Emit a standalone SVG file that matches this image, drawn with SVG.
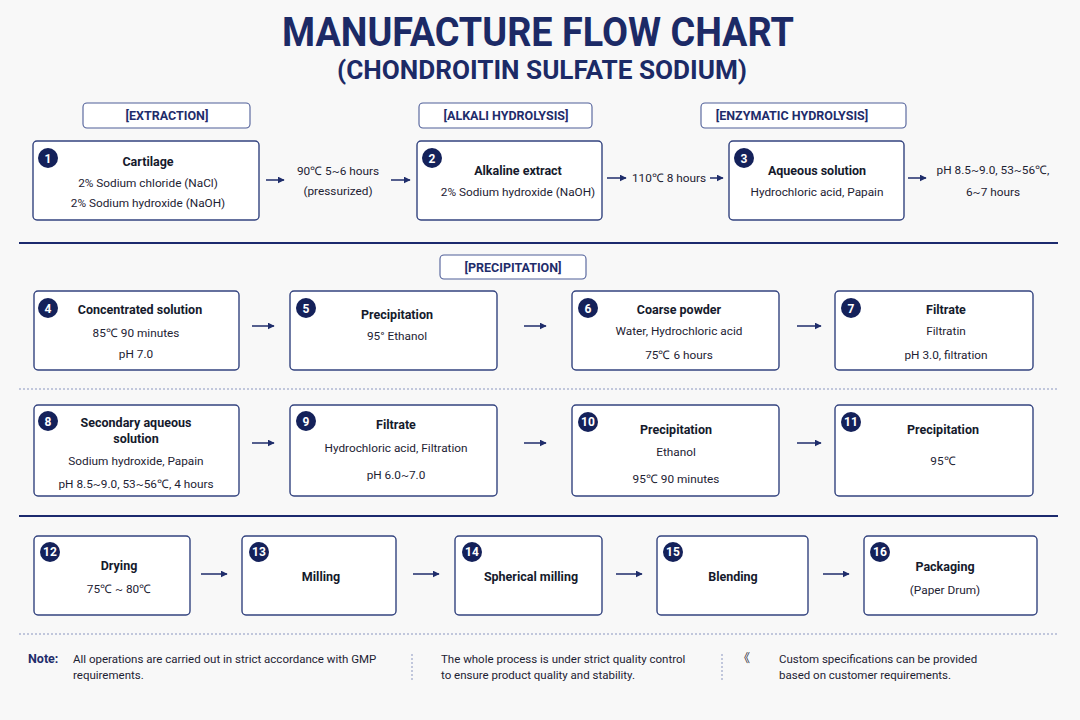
<svg xmlns="http://www.w3.org/2000/svg" width="1080" height="720" viewBox="0 0 1080 720">
<defs>
<marker id="ah" viewBox="0 0 10 10" refX="9" refY="5" markerWidth="7" markerHeight="7" markerUnits="userSpaceOnUse" orient="auto"><path d="M0,0 L10,5 L0,10 z" fill="#1f2d6b"/></marker>
<style>
.t{font-family:Roboto,"Liberation Sans",sans-serif;fill:#1c2a66;font-weight:bold;text-anchor:middle}
.box{fill:#fff;stroke:#33437f;stroke-width:1.4}
.sec{fill:#fff;stroke:#4f5e98;stroke-width:1.1}
.sect{font-family:Roboto,"Liberation Sans",sans-serif;font-size:12.5px;font-weight:bold;fill:#1f2d6b;text-anchor:middle}
.h{font-family:Roboto,"Liberation Sans",sans-serif;font-size:12.5px;font-weight:bold;fill:#151a2c;text-anchor:middle}
.b{font-family:Roboto,"Liberation Sans",sans-serif;font-size:11.8px;fill:#1d2233;text-anchor:middle}
.n{fill:#14215a}
.nt{font-family:Roboto,"Liberation Sans",sans-serif;font-size:12px;font-weight:bold;fill:#fff;text-anchor:middle}
.arr{stroke:#1f2d6b;stroke-width:1.5;fill:none;marker-end:url(#ah)}
.solid{stroke:#1c2a6e;stroke-width:2}
.dot{stroke:#8a96c0;stroke-width:1;stroke-dasharray:2 2}
.f{font-family:Roboto,"Liberation Sans",sans-serif;font-size:11.5px;fill:#1d2233}
</style>
</defs>
<rect width="1080" height="720" fill="#f8f8f8"/>
<g id="title">
<text class="t" x="538" y="46" font-size="40" textLength="512" lengthAdjust="spacingAndGlyphs">MANUFACTURE FLOW CHART</text>
<text class="t" x="542" y="79" font-size="26" textLength="410" lengthAdjust="spacingAndGlyphs">(CHONDROITIN SULFATE SODIUM)</text>
</g>
<g id="sections">
<rect class="sec" x="83" y="103" width="167" height="25" rx="4"/><text class="sect" x="167" y="120">[EXTRACTION]</text>
<rect class="sec" x="419" y="103" width="173" height="25" rx="4"/><text class="sect" x="506" y="120">[ALKALI HYDROLYSIS]</text>
<rect class="sec" x="701" y="103" width="205" height="25" rx="4"/><text class="sect" x="792" y="120">[ENZYMATIC HYDROLYSIS]</text>
<rect class="sec" x="440" y="255" width="146" height="24" rx="4"/><text class="sect" x="513" y="272">[PRECIPITATION]</text>
</g>
<g id="dividers">
<line class="solid" x1="19" y1="243" x2="1058" y2="243"/>
<line class="dot" x1="19" y1="389" x2="1058" y2="389"/>
<line class="solid" x1="19" y1="516" x2="1058" y2="516"/>
<line class="dot" x1="19" y1="634" x2="1058" y2="634"/>
</g>
<g id="node1"><rect class="box" x="33" y="141" width="226" height="79" rx="4"/><circle class="n" cx="48" cy="158" r="10"/><text class="nt" x="48" y="162.5">1</text>
<text class="h" x="148" y="166">Cartilage</text><text class="b" x="148" y="187">2% Sodium chloride (NaCl)</text><text class="b" x="148" y="207">2% Sodium hydroxide (NaOH)</text></g>
<g id="node2"><rect class="box" x="417" y="141" width="185" height="79" rx="4"/><circle class="n" cx="432" cy="158" r="10"/><text class="nt" x="432" y="162.5">2</text>
<text class="h" x="518" y="175">Alkaline extract</text><text class="b" x="518" y="196">2% Sodium hydroxide (NaOH)</text></g>
<g id="node3"><rect class="box" x="729" y="141" width="175" height="79" rx="4"/><circle class="n" cx="744" cy="158" r="10"/><text class="nt" x="744" y="162.5">3</text>
<text class="h" x="817" y="175">Aqueous solution</text><text class="b" x="817" y="196">Hydrochloric acid, Papain</text></g>
<g id="node4"><rect class="box" x="34" y="291" width="205" height="79" rx="4"/><circle class="n" cx="48" cy="308" r="10"/><text class="nt" x="48" y="312.5">4</text>
<text class="h" x="140" y="314">Concentrated solution</text><text class="b" x="136" y="337">85℃ 90 minutes</text><text class="b" x="136" y="358">pH 7.0</text></g>
<g id="node5"><rect class="box" x="290" y="291" width="207" height="79" rx="4"/><circle class="n" cx="306" cy="308" r="10"/><text class="nt" x="306" y="312.5">5</text>
<text class="h" x="397" y="319">Precipitation</text><text class="b" x="397" y="340">95° Ethanol</text></g>
<g id="node6"><rect class="box" x="572" y="291" width="207" height="79" rx="4"/><circle class="n" cx="588" cy="308" r="10"/><text class="nt" x="588" y="312.5">6</text>
<text class="h" x="679" y="314">Coarse powder</text><text class="b" x="679" y="335">Water, Hydrochloric acid</text><text class="b" x="679" y="359">75℃ 6 hours</text></g>
<g id="node7"><rect class="box" x="835" y="291" width="198" height="79" rx="4"/><circle class="n" cx="851" cy="308" r="10"/><text class="nt" x="851" y="312.5">7</text>
<text class="h" x="946" y="314">Filtrate</text><text class="b" x="946" y="335">Filtratin</text><text class="b" x="946" y="359">pH 3.0, filtration</text></g>
<g id="node8"><rect class="box" x="34" y="405" width="205" height="91" rx="4"/><circle class="n" cx="48" cy="421" r="10"/><text class="nt" x="48" y="425.5">8</text>
<text class="h" x="136" y="427">Secondary aqueous</text><text class="h" x="136" y="443">solution</text><text class="b" x="136" y="465">Sodium hydroxide, Papain</text><text class="b" x="136" y="488">pH 8.5~9.0, 53~56℃, 4 hours</text></g>
<g id="node9"><rect class="box" x="290" y="405" width="207" height="91" rx="4"/><circle class="n" cx="306" cy="421" r="10"/><text class="nt" x="306" y="425.5">9</text>
<text class="h" x="396" y="429">Filtrate</text><text class="b" x="396" y="452">Hydrochloric acid, Filtration</text><text class="b" x="396" y="479">pH 6.0~7.0</text></g>
<g id="node10"><rect class="box" x="572" y="405" width="207" height="91" rx="4"/><circle class="n" cx="588" cy="422" r="10"/><text class="nt" x="588" y="426" font-size="11">10</text>
<text class="h" x="676" y="434">Precipitation</text><text class="b" x="676" y="456">Ethanol</text><text class="b" x="676" y="483">95℃ 90 minutes</text></g>
<g id="node11"><rect class="box" x="835" y="405" width="198" height="91" rx="4"/><circle class="n" cx="851" cy="422" r="10"/><text class="nt" x="851" y="426" font-size="11">11</text>
<text class="h" x="943" y="434">Precipitation</text><text class="b" x="943" y="465">95℃</text></g>
<g id="node12"><rect class="box" x="34" y="536" width="156" height="79" rx="4"/><circle class="n" cx="50" cy="552" r="10"/><text class="nt" x="50" y="556" font-size="11">12</text>
<text class="h" x="119" y="570">Drying</text><text class="b" x="119" y="593">75℃ ~ 80℃</text></g>
<g id="node13"><rect class="box" x="242" y="536" width="154" height="79" rx="4"/><circle class="n" cx="259" cy="552" r="10"/><text class="nt" x="259" y="556" font-size="11">13</text>
<text class="h" x="321" y="581">Milling</text></g>
<g id="node14"><rect class="box" x="455" y="536" width="147" height="79" rx="4"/><circle class="n" cx="472" cy="552" r="10"/><text class="nt" x="472" y="556" font-size="11">14</text>
<text class="h" x="531" y="581">Spherical milling</text></g>
<g id="node15"><rect class="box" x="657" y="536" width="151" height="79" rx="4"/><circle class="n" cx="673" cy="552" r="10"/><text class="nt" x="673" y="556" font-size="11">15</text>
<text class="h" x="733" y="581">Blending</text></g>
<g id="node16"><rect class="box" x="864" y="536" width="173" height="79" rx="4"/><circle class="n" cx="880" cy="552" r="10"/><text class="nt" x="880" y="556" font-size="11">16</text>
<text class="h" x="945" y="571">Packaging</text><text class="b" x="945" y="594">(Paper Drum)</text></g>
<g id="connectors">
<line class="arr" x1="266" y1="180" x2="284" y2="180"/>
<line class="arr" x1="391" y1="180" x2="410" y2="180"/>
<line class="arr" x1="607" y1="178" x2="626" y2="178"/>
<line class="arr" x1="710" y1="178" x2="723" y2="178"/>
<line class="arr" x1="908" y1="178" x2="926" y2="178"/>
<line class="arr" x1="252" y1="326" x2="274" y2="326"/>
<line class="arr" x1="524" y1="326" x2="546" y2="326"/>
<line class="arr" x1="797" y1="326" x2="821" y2="326"/>
<line class="arr" x1="252" y1="443" x2="274" y2="443"/>
<line class="arr" x1="524" y1="443" x2="546" y2="443"/>
<line class="arr" x1="797" y1="443" x2="821" y2="443"/>
<line class="arr" x1="201" y1="574" x2="227" y2="574"/>
<line class="arr" x1="413" y1="574" x2="439" y2="574"/>
<line class="arr" x1="616" y1="574" x2="642" y2="574"/>
<line class="arr" x1="823" y1="574" x2="849" y2="574"/>
</g>
<g id="labels">
<text class="b" x="338" y="175">90℃ 5~6 hours</text>
<text class="b" x="338" y="195">(pressurized)</text>
<text class="b" x="669" y="182">110℃ 8 hours</text>
<text class="b" x="993" y="174">pH 8.5~9.0, 53~56℃,</text>
<text class="b" x="993" y="196">6~7 hours</text>
</g>
<g id="footer">
<text x="28" y="663" font-family="Roboto,'Liberation Sans',sans-serif" font-size="12.5" font-weight="bold" fill="#1f2d6b">Note:</text>
<text class="f" x="73" y="663">All operations are carried out in strict accordance with GMP</text>
<text class="f" x="73" y="679">requirements.</text>
<line class="dot" x1="412" y1="654" x2="412" y2="682" stroke="#9aa0b0"/>
<text class="f" x="441" y="663">The whole process is under strict quality control</text>
<text class="f" x="441" y="679">to ensure product quality and stability.</text>
<line class="dot" x1="722" y1="654" x2="722" y2="682" stroke="#9aa0b0"/>
<text x="738" y="663" font-family="'Noto Sans CJK SC',sans-serif" font-size="12" fill="#1d2233">《</text>
<text class="f" x="779" y="663">Custom specifications can be provided</text>
<text class="f" x="779" y="679">based on customer requirements.</text>
</g>
</svg>
